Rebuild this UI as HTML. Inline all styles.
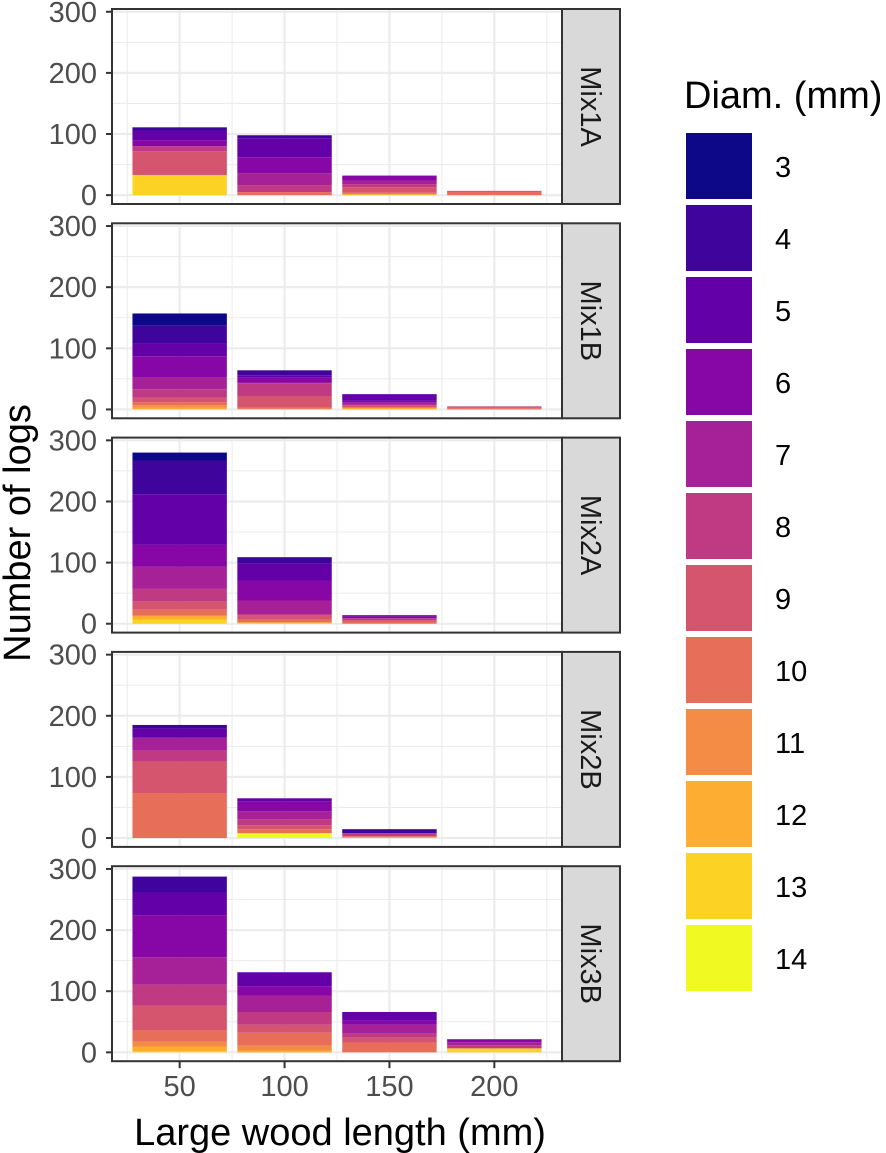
<!DOCTYPE html>
<html><head><meta charset="utf-8"><style>
body{margin:0;background:#fff}
svg{display:block;font-family:"Liberation Sans",Arial,sans-serif}
</style></head><body>
<svg id="chart" width="886" height="1153" viewBox="0 0 886 1153" xmlns="http://www.w3.org/2000/svg">
<g id="plot"></g>
<text transform="translate(30,533) rotate(-90)" text-anchor="middle" font-size="38" fill="#000">Number of logs</text>
<text x="340" y="1145" text-anchor="middle" font-size="38" fill="#000">Large wood length (mm)</text>
<text x="684" y="108" font-size="38" fill="#000">Diam. (mm)</text>
<g id="legend"></g>
</svg>
<script>
const facets = ["Mix1A","Mix1B","Mix2A","Mix2B","Mix3B"];
const lengths = [50,100,150,200];
const diams = [3,4,5,6,7,8,9,10,11,12,13,14];
const colors = ["#0D0887","#3E049C","#6300A7","#8707A6","#A62098","#C03A83","#D5546E","#E76F5A","#F58C46","#FDAD32","#FCD225","#F0F921"];
const yTicks = [0,100,200,300];
const xTicks = [50,100,150,200];
// counts[facet][lengthIndex] = counts for diams 3..14
const mix1A = [
 [1,5,15,10,0,8,39,0,0,0,33,0],
 [0,5,31,26,20,11,0,5,0,0,0,0],
 [0,0,0,8,6,5,9,2,0,2,0,0],
 [0,0,0,0,0,1,0,6,0,0,0,0]];
const mix1B = [
 [20,29,21,34,20,14,7,5,4,3,0,0],
 [0,8,4,8,1,21,18,3,0,1,0,0],
 [0,0,11,3,3,2,3,0,0,3,0,0],
 [0,0,0,0,0,1.5,1.5,2,0,0,0,0]];
const mix2A = [
 [13,55,83,36,36,21,13,10,0,6.5,6.5,0],
 [1,10,28,32,23,0,8,5,0,0,2,0],
 [0,0,2,3,0,3,3,3,0,0,0,0],
 [0,0,0,0,0,0,0,0,0,0,0,0]];
const mix2B = [
 [0,6,15,0,21,18,52,73,0,0,0,0],
 [0,0,5,16,13,10,6.5,6.5,0,0,0,8],
 [0,6.5,0,0,0,5,0,1.5,0,1.5,0,0],
 [0,0,0,0,0,0,0,0,0,0,0,0]];
const mix3B = [
 [0,26,37,69,45,34,40,19,8,8,1.5,0],
 [0,0,23,15,27,21,13,21,8,3,0,0],
 [0,0,14.5,6.5,14.5,6.5,8,16,0,0,0,0],
 [0,0,0,5,5,5,0,0,0,0,6.5,0]];
const counts = [mix1A,mix1B,mix2A,mix2B,mix3B];

const NS="http://www.w3.org/2000/svg";
function mk(tag,attrs,parent){const e=document.createElementNS(NS,tag);for(const k in attrs)e.setAttribute(k,attrs[k]);parent.appendChild(e);return e;}
const plot=document.getElementById('plot');
const PX0=112,PX1=562,STRIP1=620,PH=195;
const panelTops=[9,223.3,437.6,651.9,866.2];
const xMin=17.75,xMax=232.25,yMin=-14.5,yMax=304.5;
const xs=v=>PX0+(v-xMin)/(xMax-xMin)*(PX1-PX0);
facets.forEach((f,fi)=>{
  const top=panelTops[fi];
  const ys=v=>top+PH-(v-yMin)/(yMax-yMin)*PH;
  const g=mk('g',{},plot);
  
  
  [25,75,125,175,225].forEach(v=>{const l=mk('line',{x1:xs(v),x2:xs(v),y1:top,y2:top+PH,stroke:'#ebebeb','stroke-width':1},g);});
  [50,150,250].forEach(v=>{const l=mk('line',{x1:PX0,x2:PX1,y1:ys(v),y2:ys(v),stroke:'#ebebeb','stroke-width':1},g);});
  xTicks.forEach(v=>{const l=mk('line',{x1:xs(v),x2:xs(v),y1:top,y2:top+PH,stroke:'#ebebeb','stroke-width':2},g);});
  yTicks.forEach(v=>{const l=mk('line',{x1:PX0,x2:PX1,y1:ys(v),y2:ys(v),stroke:'#ebebeb','stroke-width':2},g);});
  lengths.forEach((L,li)=>{
    const vals=counts[fi][li];let cum=0;
    for(let di=diams.length-1;di>=0;di--){
      const v=vals[di];if(!v)continue;
      const r=mk('rect',{x:xs(L-22.5),width:xs(L+22.5)-xs(L-22.5),y:ys(cum+v),height:ys(cum)-ys(cum+v),fill:colors[di]},g);
      
      
      cum+=v;
    }
  });
  const b=mk('rect',{x:PX0,y:top,width:PX1-PX0,height:PH,fill:'none',stroke:'#333','stroke-width':2},g);
  
  
  const s=mk('rect',{x:PX1,y:top,width:STRIP1-PX1,height:PH,fill:'#d9d9d9',stroke:'#333','stroke-width':2},g);
  
  
  const st=mk('text',{transform:`translate(${(PX1+STRIP1)/2-10},${top+PH/2}) rotate(90)`,'text-anchor':'middle','font-size':29,fill:'#1a1a1a'},g);
  st.textContent=f;
  
  
  yTicks.forEach(v=>{
    const t=mk('line',{x1:PX0-6,x2:PX0,y1:ys(v),y2:ys(v),stroke:'#333','stroke-width':2},g);
    
    
    const tl=mk('text',{x:PX0-15,y:ys(v)+10,'text-anchor':'end','font-size':29,fill:'#4d4d4d'},g);
    tl.textContent=v;
    
    
  });
});
const lastBottom=panelTops[4]+PH;
xTicks.forEach(v=>{
  const t=mk('line',{x1:xs(v),x2:xs(v),y1:lastBottom,y2:lastBottom+7,stroke:'#333','stroke-width':2},plot);
  
  
  const tl=mk('text',{x:xs(v),y:lastBottom+35,'text-anchor':'middle','font-size':29,fill:'#4d4d4d'},plot);
  tl.textContent=v;
  
  
});
const leg=document.getElementById('legend');
diams.forEach((d,i)=>{
  const y=133+i*72;
  const r=mk('rect',{x:686,y:y,width:66,height:66,fill:colors[i]},leg);
  
  
  const t=mk('text',{x:775,y:y+44,'font-size':29,fill:'#000'},leg);
  t.textContent=d;
  
  
});
</script>
</body></html>
